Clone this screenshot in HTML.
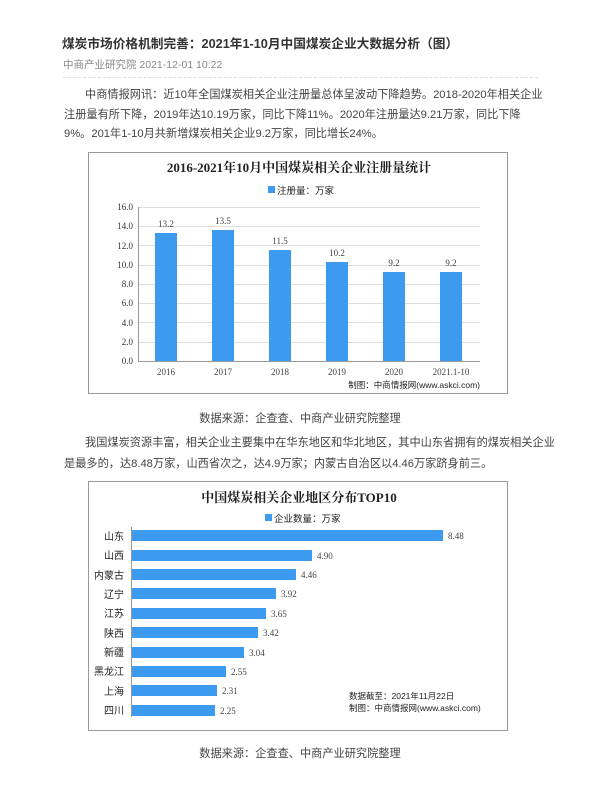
<!DOCTYPE html>
<html><head><meta charset="utf-8"><style>
body{margin:0;width:600px;height:800px;background:#fff;font-family:"Liberation Sans","Noto Sans CJK SC",sans-serif;position:relative;overflow:hidden}
.a{position:absolute;white-space:nowrap}
.p{font-size:11.2px;color:#444}
</style></head><body>
<div class="a" style="left:62px;top:33px;font-size:12.7px;font-weight:bold;color:#333">煤炭市场价格机制完善：2021年1-10月中国煤炭企业大数据分析（图）</div>
<div class="a" style="left:63px;top:57px;font-size:10.5px;color:#888">中商产业研究院 2021-12-01 10:22</div>
<div class="a" style="left:63px;top:77px;width:475px;border-top:1px dashed #ddd"></div>
<div class="a p" style="left:85px;top:86px">中商情报网讯：近10年全国煤炭相关企业注册量总体呈波动下降趋势。2018-2020年相关企业</div>
<div class="a p" style="left:64px;top:106px">注册量有所下降，2019年达10.19万家，同比下降11%。2020年注册量达9.21万家，同比下降</div>
<div class="a p" style="left:64px;top:125px">9%。201年1-10月共新增煤炭相关企业9.2万家，同比增长24%。</div>

<svg class="a" style="left:0;top:0" width="600" height="800" font-family="Liberation Serif,Noto Serif CJK SC,serif">
<rect x="88.5" y="152.5" width="419" height="241" fill="#fff" stroke="#999"/>
<text x="299" y="172" text-anchor="middle" font-size="13" font-weight="bold" fill="#222">2016-2021年10月中国煤炭相关企业注册量统计</text>
<rect x="268" y="186" width="7" height="7" fill="#3d9bef"/>
<text x="277" y="194" font-size="9.5" fill="#222" font-family="Liberation Sans,Noto Sans CJK SC,sans-serif">注册量：万家</text>
<g stroke="#ddd" stroke-width="1">
<line x1="138" x2="480" y1="207.5" y2="207.5"/><line x1="138" x2="480" y1="226.5" y2="226.5"/><line x1="138" x2="480" y1="245.5" y2="245.5"/><line x1="138" x2="480" y1="265.5" y2="265.5"/><line x1="138" x2="480" y1="284.5" y2="284.5"/><line x1="138" x2="480" y1="303.5" y2="303.5"/><line x1="138" x2="480" y1="322.5" y2="322.5"/><line x1="138" x2="480" y1="342.5" y2="342.5"/>
</g>
<line x1="138" x2="480" y1="361.5" y2="361.5" stroke="#999"/>
<line x1="138.5" x2="138.5" y1="207" y2="361" stroke="#999"/>
<g font-size="9" fill="#333" text-anchor="end">
<text x="133" y="210">16.0</text><text x="133" y="229">14.0</text><text x="133" y="249">12.0</text><text x="133" y="268">10.0</text><text x="133" y="287">8.0</text><text x="133" y="306">6.0</text><text x="133" y="326">4.0</text><text x="133" y="345">2.0</text><text x="133" y="364">0.0</text>
</g>
<g fill="#3d9bef">
<rect x="155" y="233" width="22" height="128"/><rect x="212" y="230" width="22" height="131"/><rect x="269" y="250" width="22" height="111"/><rect x="326" y="262" width="22" height="99"/><rect x="383" y="272" width="22" height="89"/><rect x="440" y="272" width="22" height="89"/>
</g>
<g font-size="9" fill="#444" text-anchor="middle">
<text x="166" y="227">13.2</text><text x="223" y="224">13.5</text><text x="280" y="244">11.5</text><text x="337" y="256">10.2</text><text x="394" y="266">9.2</text><text x="451" y="266">9.2</text>
<text x="166" y="375">2016</text><text x="223" y="375">2017</text><text x="280" y="375">2018</text><text x="337" y="375">2019</text><text x="394" y="375">2020</text><text x="451" y="375">2021.1-10</text>
</g>
<text x="480" y="388" text-anchor="end" font-size="8.5" fill="#222" font-family="Liberation Sans,Noto Sans CJK SC,sans-serif">制图：中商情报网(www.askci.com)</text>

<rect x="88.5" y="481.5" width="419" height="249" fill="#fff" stroke="#999"/>
<text x="299" y="502" text-anchor="middle" font-size="13" font-weight="bold" fill="#222">中国煤炭相关企业地区分布TOP10</text>
<rect x="265" y="514" width="7" height="7" fill="#3d9bef"/>
<text x="274" y="522" font-size="9.5" fill="#222" font-family="Liberation Sans,Noto Sans CJK SC,sans-serif">企业数量：万家</text>
<line x1="131.5" x2="131.5" y1="527" y2="717" stroke="#999"/>
<g fill="#3d9bef">
<rect x="132" y="530" width="311" height="11"/>
<rect x="132" y="550" width="180" height="11"/>
<rect x="132" y="569" width="164" height="11"/>
<rect x="132" y="588" width="144" height="11"/>
<rect x="132" y="608" width="134" height="11"/>
<rect x="132" y="627" width="126" height="11"/>
<rect x="132" y="647" width="112" height="11"/>
<rect x="132" y="666" width="94" height="11"/>
<rect x="132" y="685" width="85" height="11"/>
<rect x="132" y="705" width="83" height="11"/>
</g>
<g font-size="9" fill="#444">
<text x="448" y="539">8.48</text><text x="317" y="559">4.90</text><text x="301" y="578">4.46</text><text x="281" y="597">3.92</text><text x="271" y="617">3.65</text><text x="263" y="636">3.42</text><text x="249" y="656">3.04</text><text x="231" y="675">2.55</text><text x="222" y="694">2.31</text><text x="220" y="714">2.25</text>
</g>
<g font-size="10" fill="#222" text-anchor="end" font-family="Liberation Sans,Noto Sans CJK SC,sans-serif">
<text x="124" y="540">山东</text><text x="124" y="559">山西</text><text x="124" y="579">内蒙古</text><text x="124" y="598">辽宁</text><text x="124" y="617">江苏</text><text x="124" y="637">陕西</text><text x="124" y="656">新疆</text><text x="124" y="675">黑龙江</text><text x="124" y="695">上海</text><text x="124" y="714">四川</text>
</g>
<g font-size="8.5" fill="#222" font-family="Liberation Sans,Noto Sans CJK SC,sans-serif">
<text x="349" y="699">数据截至：2021年11月22日</text><text x="349" y="711">制图：中商情报网(www.askci.com)</text>
</g>
</svg>

<div class="a p" style="left:0;width:600px;text-align:center;top:410px">数据来源：企查查、中商产业研究院整理</div>
<div class="a p" style="left:85px;top:434px">我国煤炭资源丰富，相关企业主要集中在华东地区和华北地区，其中山东省拥有的煤炭相关企业</div>
<div class="a p" style="left:64px;top:455px">是最多的，达8.48万家，山西省次之，达4.9万家；内蒙古自治区以4.46万家跻身前三。</div>
<div class="a p" style="left:0;width:600px;text-align:center;top:745px">数据来源：企查查、中商产业研究院整理</div>
</body></html>
